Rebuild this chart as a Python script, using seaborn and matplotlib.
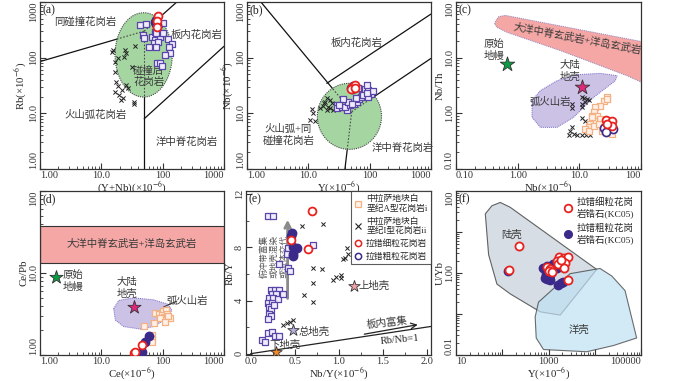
import numpy as np
import matplotlib
import matplotlib.pyplot as plt
import seaborn as sns
from matplotlib.patches import Polygon
from matplotlib.lines import Line2D
from matplotlib.ticker import FixedLocator, FixedFormatter, LogLocator, NullFormatter, MultipleLocator

matplotlib.use('Agg')

# ---------------- data ----------------
# (a) Rb vs (Y+Nb)
a_sq_x = [43, 53, 86, 100, 80, 48, 50, 67, 74, 89, 93, 103, 71, 84, 60, 77, 121, 141, 129, 133, 111, 80, 91, 97, 74, 78]
a_sq_y = [386, 402, 402, 425, 336, 255, 222, 238, 208, 238, 274, 274, 181, 194, 158, 158, 213, 176, 153, 123, 112, 81, 79, 71, 293, 274]
a_x_x = [15, 15.5, 18.5, 17, 24.6, 25.6, 23.7, 35, 31.6, 17, 17.4, 18.5, 25.6, 27.2, 21.7, 16.5, 19.2, 22.6, 21, 33.6, 34.5]
a_x_y = [128, 137, 97, 85, 137, 120, 104, 164, 69, 56, 37, 31, 32, 29, 26, 24.5, 21, 18.6, 17.4, 16.2, 14.7]
a_fine_x = [85, 82, 80]
a_fine_y = [560, 462, 360]
a_coarse_x = [76, 79, 82, 78]
a_coarse_y = [440, 410, 390, 470]

# (b) Nb vs Y
b_sq_x = [29, 29.7, 34.9, 42, 39.6, 47.7, 55, 62.7, 67.6, 72, 59.7, 73.8, 83.6, 78.5, 94.7, 107, 114, 94.7, 89, 65, 55, 44.8, 37.2, 50.7, 32, 89]
b_sq_y = [14.1, 12.3, 12.8, 11.5, 13.2, 14.1, 14.7, 16.2, 17.8, 19.9, 18.6, 24.5, 27, 21.3, 26.3, 22.3, 25.5, 19.9, 32.3, 28.9, 30.1, 16.2, 17.8, 14.7, 14.1, 23.5]
b_x_x = [20, 22.6, 18.7, 24, 17.6, 21.2, 22.6, 25.6, 15.5, 11.4, 12.1, 10.7, 12.9, 20, 18]
b_x_y = [18.6, 17.4, 16.2, 15.1, 13.5, 13.2, 12.3, 11.5, 12.3, 11.8, 10, 7.6, 7.4, 11.5, 15.6]
b_fine_x = [52, 55, 57, 50, 58]
b_fine_y = [30, 28, 32, 27, 29]
b_coarse_x = [49, 52, 54]
b_coarse_y = [29, 27, 31]

# (c) Nb/Th vs Nb
c_sq_x = [28, 24.8, 21.9, 18.2, 17.1, 16, 19.3, 21.9, 17.1, 15.1, 14.2, 12.5, 14.2, 17.1, 20.6, 33.9, 29.9, 24.8, 23.3, 28, 16]
c_sq_y = [1.99, 1.69, 1.37, 1.28, 1.04, 0.91, 0.91, 0.79, 0.74, 0.64, 0.56, 0.52, 0.49, 0.60, 0.64, 0.43, 0.52, 0.56, 0.49, 1.81, 0.85]
c_x_x = [11, 11.8, 13.3, 14.2, 12.5, 11, 7.6, 7.6, 11, 11, 12.5, 13.3, 7.6, 7.1, 6.7, 8.1, 11, 13, 14.7, 9.2]
c_x_y = [1.94, 1.88, 1.81, 1.74, 1.58, 1.47, 1.47, 1.25, 1.28, 0.82, 0.74, 0.50, 0.56, 0.49, 0.41, 0.43, 0.41, 0.41, 0.41, 0.40]
c_fine_x = [27, 34, 34, 28]
c_fine_y = [0.76, 0.74, 0.60, 0.64]
c_coarse_x = [24.8, 34.7, 27]
c_coarse_y = [0.55, 0.52, 0.46]

# (d) Ce/Pb vs Ce
d_sq_x = [75.6, 85.7, 103, 113, 97, 106, 117, 133, 91, 71, 49, 67, 67, 67, 124, 110]
d_sq_y = [3.27, 3.2, 3.45, 3.51, 3.06, 2.87, 3.2, 2.79, 2.79, 2.43, 2.26, 1.77, 1.57, 1.43, 2.98, 2.55]
d_fine_x = [46, 33.6, 35.8]
d_fine_y = [1.31, 1.07, 1.10]
d_coarse_x = [60, 50.8, 46]
d_coarse_y = [1.72, 1.44, 1.10]

# (e) Rb/Y vs Nb/Y
e_sq_x = [0.193, 0.25, 0.42, 0.41, 0.428, 0.45, 0.326, 0.705,
          0.231, 0.28, 0.326, 0.242, 0.288, 0.212, 0.258, 0.307, 0.193, 0.242, 0.212, 0.231, 0.269,
          0.212, 0.231, 0.2, 0.364, 0.193, 0.242, 0.28, 0.318, 0.129, 0.167]
e_sq_y = [10.37, 10.37, 7.98, 7.48, 6.42, 6.25, 6.72, 8.2,
          4.77, 4.81, 4.77, 4.49, 4.52, 4.2, 4.2, 4.12, 3.83, 3.78, 3.53, 3.38, 3.7,
          2.96, 2.84, 2.59, 4.49, 1.56, 1.6, 1.31, 1.31, 1.06, 0.86]
e_x_x = [0.58, 0.818, 0.705, 0.807, 0.705, 0.606, 0.712, 1.053, 0.939, 0.97, 1.023, 1.023, 1.098, 1.11, 1.072,
         0.371, 0.409, 0.447, 0.477]
e_x_y = [9.58, 9.75, 6.44, 6.37, 5.31, 4.4, 3.9, 7.11, 5.56, 5.8, 5.95, 5.7, 7.93, 7.53, 7.19,
         2.17, 2.3, 2.42, 2.54]
e_fine_x = [0.693, 0.458, 0.655]
e_fine_y = [10.74, 8.59, 7.85]
e_coarse_x = [0.466, 0.458, 0.523, 0.485, 0.485, 0.477]
e_coarse_y = [9.09, 8.84, 7.98, 8.02, 7.36, 7.48]

# (f) U/Yb vs Y (zircon)
f_fine_x = [233, 142, 1726, 2178, 2700, 1514, 1942, 2290, 1644, 2214, 920, 1087, 1000, 1180, 2700, 1900]
f_fine_y = [4.67, 1.16, 2.41, 2.33, 2.41, 2.01, 1.94, 1.77, 1.67, 1.34, 1.39, 1.27, 1.12, 1.08, 0.668, 2.12]
f_coarse_x = [130, 755, 951, 1282, 1514, 891, 848, 1087, 951, 1589, 1845, 2037, 1087]
f_coarse_y = [1.12, 1.29, 1.47, 1.67, 1.34, 0.96, 0.75, 0.67, 0.71, 0.52, 0.56, 0.61, 0.90]

# reference compositions
pm_c = (0.66, 7.7)
cc_c = (11, 3.0)
pm_d = (1.8, 9.0)
cc_d = (33.6, 3.85)
uc_e = (1.17, 5.1)
bc_e = (0.477, 1.75)
lc_e = (0.284, 0.15)

# discrimination fields
pink_c = [(0.424, 40.3), (0.435, 45), (0.492, 54.6), (0.631, 57.5), (130, 18.5), (130, 3.2), (59, 4.75),
          (4.92, 13.4), (0.671, 28.5), (0.462, 35)]
arc_c = [(1.71, 1.69), (2.32, 2.55), (4.35, 3.86), (9.17, 4.95), (21.9, 5.23), (40.8, 4.75), (38.4, 3.86),
         (17.1, 1.94), (8.09, 0.85), (4.35, 0.56), (2.33, 0.56), (1.71, 0.85)]
arc_d = [(15.9, 3.68), (19.2, 4.63), (33.6, 4.98), (71, 4.71), (124, 4.15), (141, 3.51), (117, 2.79),
         (71, 2.22), (43.2, 2.07), (23.1, 2.22), (16.9, 2.67)]
cont_f = [(90.6, 52.6), (149, 40), (11040, 1.22), (1787, 0.094), (661, 0.113), (149, 0.309), (76.7, 0.536),
          (50.7, 2.79), (43, 27.7), (59.8, 43.7)]
ocean_f = [(608, 0.195), (2940, 0.964), (13000, 1.29), (23300, 0.847), (45200, 0.372), (80500, 0.026),
           (25300, 0.017), (6710, 0.012), (780, 0.0136), (542, 0.026), (515, 0.085)]
band_d = (13.3, 37.5)

# ellipses in log units: centre x, radius x, centre y, radius y
ell_a = (1.69, 0.466, 2.05, 0.757)
ell_b = (1.67, 0.523, 0.946, 0.593)

# ---------------- styles ----------------
sns.set_style('ticks')
plt.rcParams['font.family'] = ['Liberation Serif', 'Noto Sans CJK SC']
plt.rcParams['mathtext.fontset'] = 'stix'
plt.rcParams['axes.linewidth'] = 0.9
plt.rcParams['axes.edgecolor'] = '#333333'

RED = '#e8231f'
PURP = '#3b2a8a'
SQP = '#5a45a8'
ORG = '#f4b183'
TXT = '#3a3a3a'
PPM = '(×10$^{-6}$)'
LAB = dict(fontsize=7.8, labelpad=0)

fig = plt.figure(figsize=(7, 3.81), dpi=100)
W, H = 700, 381


def add_ax(left, top, w=184, h=167):
    return fig.add_axes([left / W, (H - top - h) / H, w / W, h / H])


def log_ticks(ax, xlim, ylim, xmaj, xlab, ymaj, ylab):
    ax.set_xscale('log')
    ax.set_yscale('log')
    ax.set_xlim(*xlim)
    ax.set_ylim(*ylim)
    ax.xaxis.set_major_locator(FixedLocator(xmaj))
    ax.xaxis.set_major_formatter(FixedFormatter(xlab))
    ax.yaxis.set_major_locator(FixedLocator(ymaj))
    ax.yaxis.set_major_formatter(FixedFormatter(ylab))
    ax.xaxis.set_minor_locator(LogLocator(base=10, subs=np.arange(2, 10)))
    ax.yaxis.set_minor_locator(LogLocator(base=10, subs=np.arange(2, 10)))
    ax.xaxis.set_minor_formatter(NullFormatter())
    ax.yaxis.set_minor_formatter(NullFormatter())


def style_ax(ax, tag, edge_align=True):
    ax.tick_params(which='both', direction='in', labelsize=7.5, pad=1.5, colors='#333333')
    ax.tick_params(which='major', length=4, width=0.8)
    ax.tick_params(which='minor', length=2.2, width=0.6)
    ax.tick_params(axis='y', labelrotation=90)
    yt = ax.yaxis.get_major_ticks()
    xt = ax.xaxis.get_major_ticks()
    for t in yt:
        t.label1.set_verticalalignment('center')
    if edge_align:
        # end labels are pulled inside the frame, as in the original figure
        yt[0].label1.set_verticalalignment('bottom')
        yt[-1].label1.set_verticalalignment('top')
        xt[0].label1.set_horizontalalignment('left')
        xt[-1].label1.set_horizontalalignment('right')
    ax.text(0.012, 0.985, tag, transform=ax.transAxes, ha='left', va='top', fontsize=8.5, color='#222222')


def squares(ax, x, y, edge, face, s=14):
    sns.scatterplot(x=x, y=y, ax=ax, marker='s', s=s, facecolor=face, edgecolor=edge, linewidth=0.9,
                    legend=False, zorder=5)


def crosses(ax, x, y):
    sns.scatterplot(x=x, y=y, ax=ax, marker='x', s=9, color='#222222', edgecolor='#222222', linewidth=0.7,
                    legend=False, zorder=5)


def fine(ax, x, y, s=32):
    sns.scatterplot(x=x, y=y, ax=ax, marker='o', s=s, facecolor='white', edgecolor=RED, linewidth=1.3,
                    legend=False, zorder=7)


def coarse(ax, x, y, s=34, filled=True):
    sns.scatterplot(x=x, y=y, ax=ax, marker='o', s=s, facecolor=PURP if filled else 'white', edgecolor=PURP,
                    linewidth=1.2, legend=False, zorder=6)


def star(ax, xy, color, s=100):
    ax.scatter([xy[0]], [xy[1]], marker='*', s=s, c=color, edgecolors='#333333', linewidths=0.6, zorder=8)


def log_ellipse(e):
    t = np.linspace(0, 2 * np.pi, 200)
    return np.column_stack([10 ** (e[0] + e[1] * np.cos(t)), 10 ** (e[2] + e[3] * np.sin(t))])


def cn(ax, x, y, s, size=7.5, **kw):
    ax.text(x, y, s, fontsize=size, color=TXT, ha='center', va='center', linespacing=1.15, **kw)


def boundaries(ax, segs, ell):
    for (x0, y0), (x1, y1) in segs:
        ax.plot([x0, x1], [y0, y1], color='#111111', lw=0.9, zorder=1)
    patch = Polygon(ell, closed=True, facecolor='#a5d6a2', edgecolor='#444444', lw=0.8, ls=(0, (1, 1)), zorder=2)
    ax.add_patch(patch)
    for (x0, y0), (x1, y1) in segs:
        ln, = ax.plot([x0, x1], [y0, y1], color='#4a4a4a', lw=0.8, ls=(0, (1.5, 1.5)), zorder=3)
        ln.set_clip_path(patch)


ROW2_TOP, ROW2_H = 191, 164

# ---------------- (a) ----------------
ax = add_ax(40, 2)
log_ticks(ax, (1, 1000), (1, 1000), [1, 10, 100, 1000], ['1.00', '10.0', '100', '1000'],
          [1, 10, 100, 1000], ['1.00', '10.0', '100', '1000'])
segs_a = [((1, 85), (50, 300)), ((50, 300), (170, 1000)), ((50, 1), (50, 300)), ((50, 8), (1000, 160))]
boundaries(ax, segs_a, log_ellipse(ell_a))
crosses(ax, a_x_x, a_x_y)
squares(ax, a_sq_x, a_sq_y, SQP, '#f0ecfa')
coarse(ax, a_coarse_x, a_coarse_y)
fine(ax, a_fine_x, a_fine_y)
cn(ax, 5.5, 443, '同碰撞花岗岩')
cn(ax, 360, 255, '板内花岗岩')
cn(ax, 59, 45.6, '碰撞后\n花岗岩')
cn(ax, 8.0, 9.3, '火山弧花岗岩')
cn(ax, 247, 3.1, '洋中脊花岗岩')
ax.set_xlabel('(Y+Nb)' + PPM, **LAB)
ax.set_ylabel('Rb' + PPM, **LAB)
style_ax(ax, '(a)')

# ---------------- (b) ----------------
ax = add_ax(247, 2)
log_ticks(ax, (1, 1000), (1, 1000), [1, 10, 100, 1000], ['1.00', '10.0', '100', '1000'],
          [1, 10, 100, 1000], ['1.00', '10.0', '100', '1000'])
segs_b = [((1, 2000), (51, 10.7)), ((20, 34.6), (1000, 608)), ((51, 10.7), (1000, 97)), ((51, 10.7), (39.5, 1))]
boundaries(ax, segs_b, log_ellipse(ell_b))
crosses(ax, b_x_x, b_x_y)
squares(ax, b_sq_x, b_sq_y, SQP, '#f0ecfa')
coarse(ax, b_coarse_x, b_coarse_y)
fine(ax, b_fine_x, b_fine_y)
cn(ax, 61, 181, '板内花岗岩')
cn(ax, 4.75, 4.08, '火山弧+同\n碰撞花岗岩')
cn(ax, 351, 2.35, '洋中脊花岗岩')
ax.set_xlabel('Y' + PPM, **LAB)
ax.set_ylabel('Nb' + PPM, **LAB)
style_ax(ax, '(b)')

# ---------------- (c) ----------------
ax = add_ax(456, 2, w=185)
log_ticks(ax, (0.1, 100), (0.1, 100), [0.1, 1, 10, 100], ['0.10', '1.00', '10.0', '100'],
          [0.1, 1, 10, 100], ['0.10', '1.00', '10.0', '100'])
ax.add_patch(Polygon(pink_c, closed=True, facecolor='#f4a7a5', edgecolor='#8f86c0', lw=0.7, ls=(0, (1, 1)), zorder=1))
ax.add_patch(Polygon(arc_c, closed=True, facecolor='#cbc2e6', edgecolor='#7a6cc4', lw=0.7, ls=(0, (1, 1)), zorder=1))
crosses(ax, c_x_x, c_x_y)
squares(ax, c_sq_x, c_sq_y, ORG, '#fdf1e8')
coarse(ax, c_coarse_x, c_coarse_y, filled=False)
fine(ax, c_fine_x, c_fine_y)
star(ax, pm_c, '#0c9a45', s=120)
star(ax, cc_c, '#e0287a', s=120)
cn(ax, 9.2, 21.6, '大洋中脊玄武岩+洋岛玄武岩', rotation=-10.5)
cn(ax, 0.41, 13.7, '原始\n地幔')
cn(ax, 7.1, 5.8, '大陆\n地壳')
cn(ax, 3.4, 1.58, '弧火山岩')
ax.set_xlabel('Nb' + PPM, **LAB)
ax.set_ylabel('Nb/Th', **LAB)
style_ax(ax, '(c)')

# ---------------- (d) ----------------
ax = add_ax(40, ROW2_TOP, h=ROW2_H)
log_ticks(ax, (1, 1000), (1, 100), [1, 10, 100, 1000], ['1.00', '10.0', '100', '1000'],
          [1, 10, 100], ['1.00', '10.0', '100'])
ax.axhspan(band_d[0], band_d[1], facecolor='#f4a7a5', edgecolor='#333333', lw=0.8, zorder=1)
ax.add_patch(Polygon(arc_d, closed=True, facecolor='#cbc2e6', edgecolor='#7a6cc4', lw=0.7, ls=(0, (1, 1)), zorder=1))
squares(ax, d_sq_x, d_sq_y, ORG, '#fdf1e8')
coarse(ax, d_coarse_x, d_coarse_y)
fine(ax, d_fine_x, d_fine_y)
star(ax, pm_d, '#0c9a45')
star(ax, cc_d, '#e0287a')
cn(ax, 31.6, 22.4, '大洋中脊玄武岩+洋岛玄武岩')
ax.text(2.35, 8.0, '原始\n地幔', fontsize=7.5, color=TXT, ha='left', va='center', linespacing=1.15)
cn(ax, 26.2, 6.6, '大陆\n地壳')
cn(ax, 250, 4.6, '弧火山岩')
ax.plot([103, 170], [3.85, 4.54], color='#333333', lw=0.7, zorder=4)
ax.set_xlabel('Ce' + PPM, **LAB)
ax.set_ylabel('Ce/Pb', **LAB)
style_ax(ax, '(d)')

# ---------------- (e) ----------------
ax = add_ax(246, ROW2_TOP, w=185, h=ROW2_H)
ax.set_xlim(-0.053, 2.05)
ax.set_ylim(-0.1, 12.25)
ax.xaxis.set_major_locator(FixedLocator([0, 0.5, 1.0, 1.5, 2.0]))
ax.xaxis.set_major_formatter(FixedFormatter(['0.0', '0.5', '1.0', '1.5', '2.0']))
ax.xaxis.set_minor_locator(MultipleLocator(0.25))
ax.yaxis.set_major_locator(FixedLocator([0, 4, 8, 12]))
ax.yaxis.set_major_formatter(FixedFormatter(['0', '4', '8', '12']))
ax.yaxis.set_minor_locator(MultipleLocator(2))
ax.plot([0, 2.05], [0, 2.05], color='#222222', lw=0.9, zorder=1)
ax.annotate('', xy=(1.93, 2.22), xytext=(1.26, 1.43),
            arrowprops=dict(arrowstyle='->', color='#222222', lw=0.9))
ax.annotate('', xy=(0.42, 10.3), xytext=(0.42, 3.95),
            arrowprops=dict(arrowstyle='->', color='#8a8a8a', lw=2.0, mutation_scale=10))
# rotated annotation for the vertical arrow (three columns)
ax.text(0.27, 7.35, '俯冲带富集\n或地壳混染\n或流体交代', fontsize=6.2, color='#555555', ha='center',
        va='center', rotation=90, linespacing=1.25, zorder=2)
crosses(ax, e_x_x, e_x_y)
squares(ax, e_sq_x, e_sq_y, SQP, '#f0ecfa')
coarse(ax, e_coarse_x, e_coarse_y)
fine(ax, e_fine_x, e_fine_y)
star(ax, uc_e, '#f2a3a8', s=75)
star(ax, bc_e, '#b7b0dc', s=75)
star(ax, lc_e, '#f08a2c', s=75)
ax.text(1.23, 5.09, '上地壳', fontsize=7.5, color=TXT, ha='left', va='center')
ax.text(0.55, 1.63, '总地壳', fontsize=7.5, color=TXT, ha='left', va='center')
cn(ax, 0.39, 0.64, '下地壳')
cn(ax, 1.55, 2.3, '板内富集', rotation=6)
ax.text(1.70, 1.05, 'Rb/Nb=1', fontsize=7.5, color='#222222', ha='center', va='center', rotation=5)
ax.set_xlabel('Nb/Y' + PPM, **LAB)
ax.set_ylabel('Rb/Y', **LAB)
style_ax(ax, '(e)', edge_align=False)
handles_e = [
    Line2D([], [], ls='', marker='s', ms=4, mfc='#fdf1e8', mec=ORG, mew=0.9),
    Line2D([], [], ls='', marker='x', ms=4, color='#222222', mew=0.8),
    Line2D([], [], ls='', marker='o', ms=4.5, mfc='white', mec=RED, mew=1.1),
    Line2D([], [], ls='', marker='o', ms=4.5, mfc='white', mec=PURP, mew=1.1),
]
labels_e = ['中拉萨地块白\n垩纪A型花岗岩i', '中拉萨地块白\n垩纪I型花岗岩ii', '拉错细粒花岗岩', '拉错粗粒花岗岩']
leg = ax.legend(handles_e, labels_e, loc='upper right', fontsize=6.3, frameon=True, fancybox=False,
                edgecolor='#333333', handlelength=0.8, handletextpad=0.5, borderpad=0.4, labelspacing=0.5,
                borderaxespad=0.0)
leg.get_frame().set_linewidth(0.8)

# ---------------- (f) ----------------
ax = add_ax(456, ROW2_TOP, w=185, h=ROW2_H)
log_ticks(ax, (10, 100000), (0.01, 100), [10, 100, 1000, 10000, 100000], ['10', '', '1000', '', '100000'],
          [0.01, 0.1, 1, 10, 100], ['0.01', '', '1.00', '', '100'])
ax.add_patch(Polygon(cont_f, closed=True, facecolor='#c9d2dc', alpha=0.75, edgecolor='#333333', lw=0.8, zorder=1))
ax.add_patch(Polygon(ocean_f, closed=True, facecolor='#bfe0f3', alpha=0.7, edgecolor='#333333', lw=0.8, zorder=1))
coarse(ax, f_coarse_x, f_coarse_y, s=34)
fine(ax, f_fine_x, f_fine_y, s=34)
cn(ax, 162, 8.4, '陆壳')
cn(ax, 4440, 0.041, '洋壳')
ax.set_xlabel('Y' + PPM, **LAB)
ax.set_ylabel('U/Yb', **LAB)
style_ax(ax, '(f)')
handles_f = [
    Line2D([], [], ls='', marker='o', ms=5.5, mfc='white', mec=RED, mew=1.3),
    Line2D([], [], ls='', marker='o', ms=5.5, mfc=PURP, mec=PURP, mew=1.0),
]
ax.legend(handles_f, ['拉错细粒花岗\n岩锆石(KC05)', '拉错粗粒花岗\n岩锆石(KC05)'], loc='upper right', fontsize=6.8,
          frameon=False, handlelength=0.8, handletextpad=0.5, labelspacing=0.6, borderaxespad=0.3)

plt.savefig('out.png', dpi=100)
plt.close()
